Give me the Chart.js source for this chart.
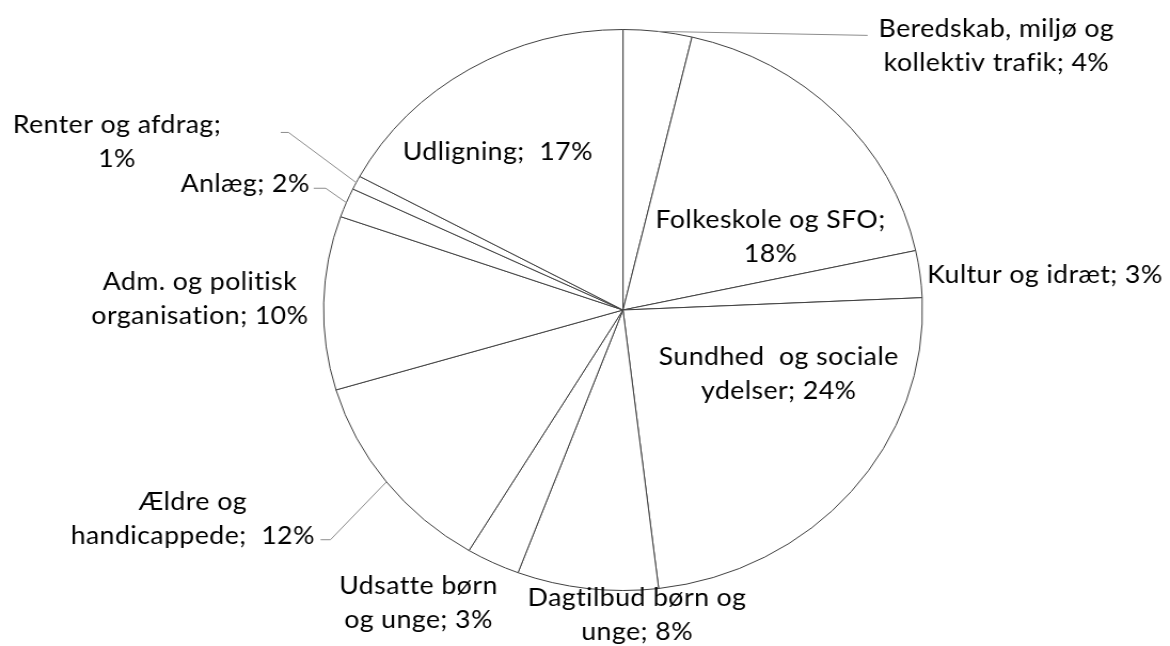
<!DOCTYPE html>
<html>
<head>
<meta charset="utf-8">
<script src="https://cdn.jsdelivr.net/npm/chart.js@4"></script>
<style>
  html, body { margin: 0; padding: 0; background: #ffffff; overflow: hidden; }
  #wrap { width: 1096px; height: 646px; transform: scale(1.0675, 1); transform-origin: 0 0; }
</style>
</head>
<body>
<div id="wrap"><canvas id="c" width="1096" height="646"></canvas></div>
<script>
// ---- data ----
const categories = [
  "Beredskab, miljø og kollektiv trafik",
  "Folkeskole og SFO",
  "Kultur og idræt",
  "Sundhed og sociale ydelser",
  "Dagtilbud børn og unge",
  "Udsatte børn og unge",
  "Ældre og handicappede",
  "Adm. og politisk organisation",
  "Anlæg",
  "Renter og afdrag",
  "Udligning"
];
const shares = [3.7, 17.9, 2.7, 23.8, 7.6, 2.9, 11.8, 10.0, 1.7, 0.8, 17.1];

// label layout (in units of the pie radius, relative to the centre) — style only
const labelLayout = [
  { lines: ["Beredskab, miljø og", "kollektiv trafik; {p}"], x: 1.247, y: -0.975, leader: [[0.817, -0.979]] },
  { lines: ["Folkeskole og SFO;", "{p}"], x: 0.493, y: -0.292 },
  { lines: ["Kultur og idræt; {p}"], x: 1.409, y: -0.096 },
  { lines: ["Sundhed  og sociale", "ydelser; {p}"], x: 0.520, y: 0.196 },
  { lines: ["Dagtilbud børn og", "unge; {p}"], x: 0.047, y: 1.057 },
  { lines: ["Udsatte børn", "og unge; {p}"], x: -0.683, y: 1.014 },
  { lines: ["Ældre og", "handicappede;  {p}"], x: -1.437, y: 0.712, leader: [[-0.977, 0.819], [-1.010, 0.819]] },
  { lines: ["Adm. og politisk", "organisation; {p}"], x: -1.413, y: -0.071 },
  { lines: ["Anlæg; {p}"], x: -1.262, y: -0.420, leader: [[-0.993, -0.434], [-1.033, -0.434]] },
  { lines: ["Renter og afdrag;", "{p}"], x: -1.690, y: -0.630, leader: [[-1.117, -0.633], [-1.143, -0.633]] },
  { lines: ["Udligning;  {p}"], x: -0.418, y: -0.534 }
];

const labelPlugin = {
  id: 'sliceLabels',
  afterDatasetsDraw(chart) {
    const ctx = chart.ctx;
    const meta = chart.getDatasetMeta(0);
    const values = chart.data.datasets[0].data;
    ctx.save();
    meta.data.forEach((arc, i) => {
      const L = labelLayout[i];
      const cx = arc.x, cy = arc.y, r = arc.outerRadius;
      const pct = Math.round(values[i]) + '%';
      if (L.leader) {
        const mid = (arc.startAngle + arc.endAngle) / 2;
        ctx.beginPath();
        ctx.strokeStyle = '#8c8c8c';
        ctx.lineWidth = 1;
        ctx.moveTo(cx + Math.cos(mid) * r, cy + Math.sin(mid) * r);
        L.leader.forEach(p => ctx.lineTo(cx + p[0] * r, cy + p[1] * r));
        ctx.stroke();
      }
      ctx.fillStyle = '#000000';
      ctx.font = '25px Lato';
      if ('letterSpacing' in ctx) ctx.letterSpacing = '0.4px';
      ctx.textAlign = 'center';
      ctx.textBaseline = 'alphabetic';
      L.lines.forEach((t, k) => {
        ctx.fillText(t.replace('{p}', pct), cx + L.x * r, cy + L.y * r + k * 34);
      });
    });
    ctx.restore();
  }
};

new Chart(document.getElementById('c'), {
  type: 'pie',
  data: {
    labels: categories,
    datasets: [{
      data: shares,
      backgroundColor: '#ffffff',
      borderColor: '#404040',
      borderWidth: 1
    }]
  },
  options: {
    responsive: false,
    animation: false,
    layout: { padding: { top: 29, bottom: 55, left: 302.6, right: 231.4 } },
    plugins: { legend: { display: false }, tooltip: { enabled: false } }
  },
  plugins: [labelPlugin]
});
</script>
</body>
</html>
